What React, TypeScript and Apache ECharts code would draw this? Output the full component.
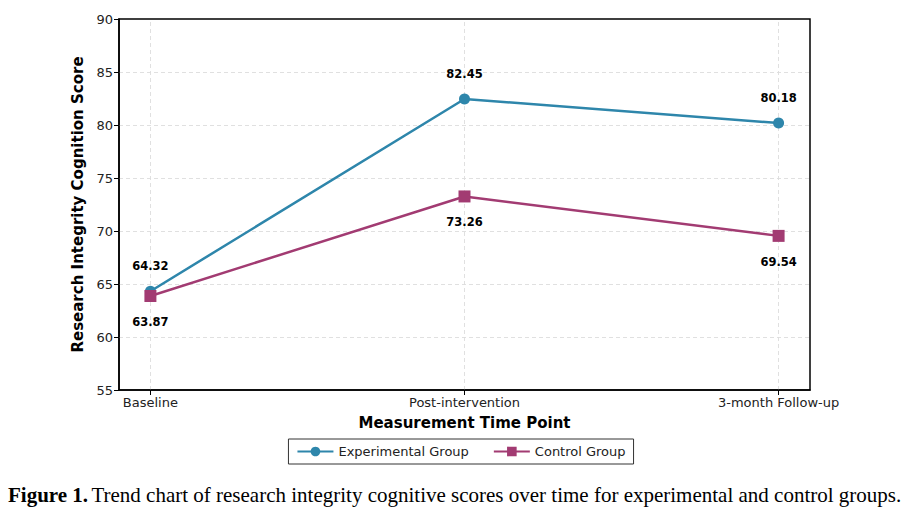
import React, { useEffect, useRef } from "react";
import * as echarts from "echarts";

const categories = ["Baseline", "Post-intervention", "3-month Follow-up"];
const experimental = [64.32, 82.45, 80.18];
const control = [63.87, 73.26, 69.54];
const yTicks = [55, 60, 65, 70, 75, 80, 85, 90];

export default function App() {
  const ref = useRef<HTMLDivElement>(null);
  useEffect(() => {
    const chart = echarts.init(ref.current!, undefined, { renderer: "svg" });
    const font = "DejaVu Sans";
    const gridLine = { type: [4, 3], color: "#dcdcdc", width: 0.9 };
    const labelStyle = (pos: "top" | "bottom") => ({
      show: true,
      position: pos,
      distance: 14,
      fontFamily: font,
      fontWeight: "bold" as const,
      fontSize: 11.5,
      color: "#000",
      formatter: (p: any) => p.value[1].toFixed(2),
    });
    chart.setOption({
      animation: false,
      textStyle: { fontFamily: font },
      grid: {
        left: 119,
        right: 112,
        top: 19,
        bottom: 130,
        show: true,
        borderColor: "#000",
        borderWidth: 1.5,
        backgroundColor: "transparent",
      },
      legend: {
        bottom: 56,
        left: "center",
        itemWidth: 36,
        itemHeight: 12,
        itemGap: 24,
        padding: [6, 8, 6, 8],
        borderColor: "#333",
        borderWidth: 1,
        borderRadius: 0,
        textStyle: { fontFamily: font, fontSize: 13, color: "#222" },
        data: ["Experimental Group", "Control Group"],
      },
      xAxis: {
        type: "value",
        min: -0.1,
        max: 2.1,
        name: "Measurement Time Point",
        nameLocation: "middle",
        nameGap: 25,
        nameTextStyle: { fontFamily: font, fontWeight: "bold", fontSize: 15, color: "#000" },
        axisLine: { show: true, onZero: false, lineStyle: { color: "#000", width: 1.5 } },
        axisTick: {
          show: true,
          length: 5,
          customValues: [0, 1, 2],
          lineStyle: { color: "#000" },
        },
        axisLabel: {
          customValues: [0, 1, 2],
          fontSize: 13,
          color: "#222",
          margin: 6,
          formatter: (v: number) => categories[Math.round(v)] ?? "",
        },
        splitLine: { show: false },
      },
      yAxis: {
        type: "value",
        min: 55,
        max: 90,
        interval: 5,
        name: "Research Integrity Cognition Score",
        nameLocation: "middle",
        nameGap: 29,
        nameTextStyle: { fontFamily: font, fontWeight: "bold", fontSize: 15, color: "#000" },
        axisLine: { show: true, onZero: false, lineStyle: { color: "#000", width: 1.5 } },
        axisTick: { show: true, length: 5, lineStyle: { color: "#000" } },
        axisLabel: {
          fontSize: 13,
          color: "#222",
          margin: 6,
          formatter: (v: number) => (yTicks.includes(v) ? String(v) : ""),
        },
        splitLine: { show: true, showMinLine: false, showMaxLine: false, lineStyle: gridLine },
      },
      series: [
        {
          name: "gridlines",
          type: "line",
          data: [],
          z: 0,
          silent: true,
          markLine: {
            silent: true,
            z: 0,
            symbol: ["none", "none"],
            label: { show: false },
            lineStyle: gridLine,
            emphasis: { disabled: true },
            data: [{ xAxis: 0 }, { xAxis: 1 }, { xAxis: 2 }],
          },
        },
        {
          name: "Experimental Group",
          type: "line",
          data: experimental.map((v, i) => [i, v]),
          symbol: "circle",
          symbolSize: 11,
          color: "#2E86AB",
          lineStyle: { width: 2.5, color: "#2E86AB" },
          itemStyle: { color: "#2E86AB" },
          label: labelStyle("top"),
          z: 3,
        },
        {
          name: "Control Group",
          type: "line",
          data: control.map((v, i) => [i, v]),
          symbol: "rect",
          symbolSize: 12,
          color: "#A23B72",
          lineStyle: { width: 2.5, color: "#A23B72" },
          itemStyle: { color: "#A23B72" },
          label: labelStyle("bottom"),
          z: 3,
        },
      ],
      graphic: [
        {
          type: "text",
          left: 8,
          top: 484,
          style: {
            rich: {
              b: { fontFamily: "Liberation Serif", fontWeight: "bold", fontSize: 21, fill: "#000" },
              n: { fontFamily: "Liberation Serif", fontSize: 21, fill: "#000" },
            },
            text: "{b|Figure 1.} {n|Trend chart of research integrity cognitive scores over time for experimental and control groups.}",
          },
        },
      ],
    });
    return () => chart.dispose();
  }, []);
  return (
    <div
      ref={ref}
      style={{ position: "absolute", left: 0, top: 0, width: 922, height: 520, background: "#fff" }}
    />
  );
}
